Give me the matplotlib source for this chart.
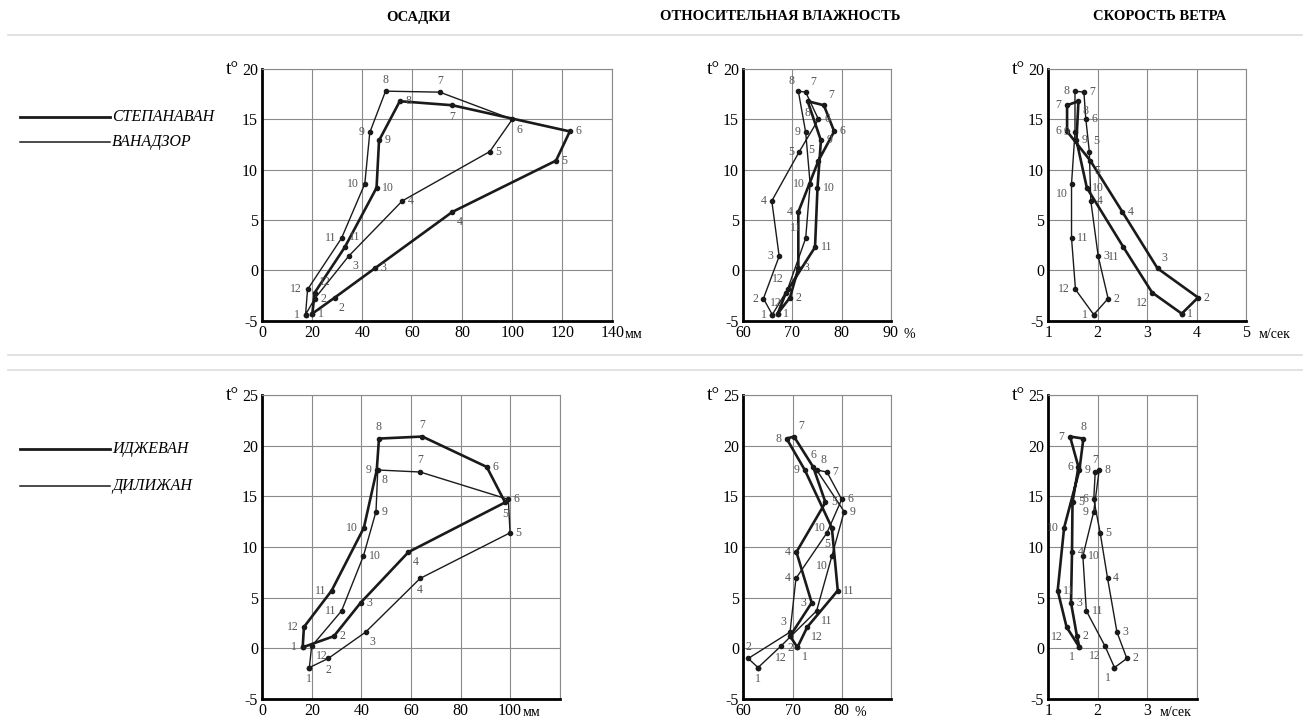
import matplotlib
matplotlib.use("Agg")
import matplotlib.pyplot as plt
from matplotlib.lines import Line2D

plt.rcParams['font.family'] = ['Liberation Serif', 'DejaVu Serif']

months = [str(m) for m in range(1, 13)]

# Температура по месяцам (ось Y)
t_stepanavan = [-4.3, -2.7, 0.2, 5.8, 10.9, 13.8, 16.4, 16.8, 12.9, 8.2, 2.3, -2.2]
t_vanadzor = [-4.4, -2.8, 1.4, 6.9, 11.8, 15.0, 17.7, 17.8, 13.7, 8.6, 3.2, -1.9]
t_ijevan = [0.1, 1.2, 4.5, 9.5, 14.4, 17.9, 20.9, 20.7, 17.6, 11.9, 5.7, 2.1]
t_dilijan = [-1.9, -1.0, 1.6, 6.9, 11.4, 14.7, 17.4, 17.6, 13.5, 9.1, 3.7, 0.2]

# Осадки, мм
p_stepanavan = [20, 29, 45, 76, 117.5, 123, 76, 55, 46.7, 45.7, 33, 21]
p_vanadzor = [17.3, 21, 34.5, 56, 91, 100, 71, 49.3, 43, 41, 31.7, 18.1]
p_ijevan = [16.3, 28.9, 39.7, 59, 98, 90.6, 64.6, 47.1, 46.2, 41, 28, 16.8]
p_dilijan = [19, 26.6, 41.7, 63.7, 100, 99.3, 63.7, 46.6, 45.9, 40.8, 32, 19.9]

# Относительная влажность, %
h_stepanavan = [67, 69.5, 71.2, 71.2, 75.3, 78.5, 76.4, 73.1, 75.8, 75.1, 74.6, 68.7]
h_vanadzor = [65.9, 64.1, 67.3, 65.8, 71.4, 75.3, 72.7, 71.2, 72.7, 73.6, 72.7, 69]
h_ijevan = [71, 69.5, 73.9, 70.8, 76.7, 74.2, 70.3, 68.8, 72.5, 78, 79.2, 73]
h_dilijan = [63, 61, 69.5, 70.7, 77, 80, 77, 74.9, 80.5, 78, 74.9, 67.6]

# Скорость ветра, м/сек
w_stepanavan = [3.7, 4.03, 3.21, 2.5, 1.85, 1.38, 1.38, 1.61, 1.57, 1.78, 2.52, 3.1]
w_vanadzor = [1.92, 2.21, 2.01, 1.86, 1.83, 1.76, 1.72, 1.54, 1.54, 1.47, 1.47, 1.55]
w_ijevan = [1.63, 1.58, 1.46, 1.48, 1.49, 1.61, 1.44, 1.71, 1.63, 1.32, 1.19, 1.37]
w_dilijan = [2.34, 2.59, 2.39, 2.2, 2.05, 1.92, 1.95, 2.03, 1.92, 1.7, 1.77, 2.15]

# с какой стороны от точки подпись месяца
sides = {
    'p_st': 'rRrRrrdrrrQQ', 'p_va': 'lrRrrRuullll',
    'h_st': 'rrrlMrQdrrrL', 'h_va': 'lllllrQMllMM',
    'w_st': 'rrQrRllRrrLL', 'w_va': 'lrrrQrrllLrl',
    'p_ij': 'lrrRdruullll', 'p_di': 'ddRdrruRrrlR',
    'h_ij': 'RdllruQlllrR', 'h_di': 'duMldrrQrLRd',
    'w_ij': 'LrrrrllurlrL', 'w_di': 'LrrrrlurlrrL',
}

offs = {'r': (4, 0, 'left', 'center'), 'l': (-4, 0, 'right', 'center'),
        'u': (0, 4, 'center', 'bottom'), 'd': (0, -4, 'center', 'top'),
        'R': (3, -3, 'left', 'top'), 'L': (-3, -3, 'right', 'top'),
        'Q': (3, 3, 'left', 'bottom'), 'M': (-3, 3, 'right', 'bottom')}

W, H = 1309, 724
fig = plt.figure(figsize=(W / 100, H / 100), dpi=100)


def make_ax(x0, x1, ytop, ybot):
    return fig.add_axes([x0 / W, 1 - ybot / H, (x1 - x0) / W, (ybot - ytop) / H])


def draw_panel(ax, xs1, ts1, s1, xs2, ts2, s2, xlim, ylim, xticks, yticks, unit):
    for xs, ts, lw, side in [(xs2, ts2, 1.0, s2), (xs1, ts1, 1.9, s1)]:
        ax.plot(xs + xs[:1], ts + ts[:1], color='#1a1a1a', lw=lw, marker='o',
                ms=3, zorder=3, clip_on=False)
        for i, m in enumerate(months):
            dx, dy, ha, va = offs[side[i]]
            ax.annotate(m, (xs[i], ts[i]), xytext=(dx, dy), textcoords='offset points',
                        ha=ha, va=va, fontsize=8.5, color='#555555', zorder=4)
    ax.set_xlim(xlim)
    ax.set_ylim(ylim)
    step = xticks[1] - xticks[0]
    grid_x = [xlim[0] + k * step for k in range(int(round((xlim[1] - xlim[0]) / step)) + 1)]
    ax.set_xticks(grid_x)
    ax.set_xticklabels([str(v) if v in xticks else '' for v in grid_x])
    ax.set_yticks(yticks)
    ax.set_yticklabels([str(v) for v in yticks])
    ax.grid(True, color='#8a8a8a', lw=0.8)
    ax.set_axisbelow(True)
    ax.tick_params(length=0, labelsize=11.5, pad=3)
    for sp in ['top', 'right']:
        ax.spines[sp].set_color('#8a8a8a')
        ax.spines[sp].set_linewidth(0.8)
    for sp in ['left', 'bottom']:
        ax.spines[sp].set_linewidth(2)
    ax.annotate('t°', (0, 1), xycoords='axes fraction', xytext=(-17, 0),
                textcoords='offset points', ha='right', va='center', fontsize=14)
    ax.annotate(unit, (xticks[-1], ylim[0]), xycoords='data', xytext=(9, -5),
                textcoords='offset points', ha='left', va='top', fontsize=10)


# верхний ряд
ax = make_ax(262.3, 612.3, 69, 320.7)
draw_panel(ax, p_stepanavan, t_stepanavan, sides['p_st'], p_vanadzor, t_vanadzor, sides['p_va'],
           (0, 140), (-5, 20), list(range(0, 141, 20)), list(range(-5, 21, 5)), 'мм')
ax = make_ax(743.3, 890.7, 69, 320.7)
draw_panel(ax, h_stepanavan, t_stepanavan, sides['h_st'], h_vanadzor, t_vanadzor, sides['h_va'],
           (60, 90), (-5, 20), [60, 70, 80, 90], list(range(-5, 21, 5)), '%')
ax = make_ax(1048.3, 1246, 69, 320.7)
draw_panel(ax, w_stepanavan, t_stepanavan, sides['w_st'], w_vanadzor, t_vanadzor, sides['w_va'],
           (1, 5), (-5, 20), [1, 2, 3, 4, 5], list(range(-5, 21, 5)), 'м/сек')

# нижний ряд
ax = make_ax(262.3, 559.6, 395, 699)
draw_panel(ax, p_ijevan, t_ijevan, sides['p_ij'], p_dilijan, t_dilijan, sides['p_di'],
           (0, 120), (-5, 25), list(range(0, 101, 20)), list(range(-5, 26, 5)), 'мм')
ax = make_ax(743.3, 890.9, 395, 699)
draw_panel(ax, h_ijevan, t_ijevan, sides['h_ij'], h_dilijan, t_dilijan, sides['h_di'],
           (60, 90), (-5, 25), [60, 70, 80], list(range(-5, 26, 5)), '%')
ax = make_ax(1048.3, 1196.5, 395, 699)
draw_panel(ax, w_ijevan, t_ijevan, sides['w_ij'], w_dilijan, t_dilijan, sides['w_di'],
           (1, 4), (-5, 25), [1, 2, 3], list(range(-5, 26, 5)), 'м/сек')

# заголовки колонок
for x, s in [(418, 'ОСАДКИ'), (780, 'ОТНОСИТЕЛЬНАЯ ВЛАЖНОСТЬ'), (1160, 'СКОРОСТЬ ВЕТРА')]:
    fig.text(x / W, 1 - 17 / H, s, ha='center', va='center', fontsize=10.5, weight='bold')

# легенда
for y, lw, name in [(117, 2.0, 'СТЕПАНАВАН'), (142, 1.1, 'ВАНАДЗОР'),
                    (449, 2.0, 'ИДЖЕВАН'), (486, 1.1, 'ДИЛИЖАН')]:
    fig.add_artist(Line2D([20 / W, 110 / W], [1 - y / H, 1 - y / H], color='#1a1a1a', lw=lw))
    fig.text(112 / W, 1 - y / H, name, ha='left', va='center', fontsize=11.5, style='italic')

# светлые рамки рядов
for y in [35, 355, 370]:
    fig.add_artist(Line2D([8 / W, 1302 / W], [1 - y / H, 1 - y / H], color='#dddddd', lw=1.2))

fig.savefig('out.png', dpi=100)
